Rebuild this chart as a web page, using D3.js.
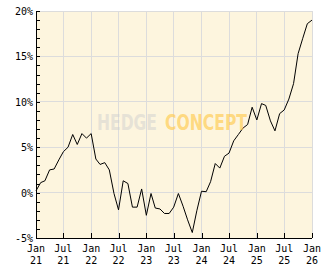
<!DOCTYPE html>
<html><head><meta charset="utf-8">
<script src="https://cdn.jsdelivr.net/npm/d3@7"></script>
<style>html,body{margin:0;padding:0;background:#fff;}svg{display:block;}</style>
</head><body>
<script>
const startDate = new Date(2021, 0, 1);
const values = [0.2,1.1,1.3,2.5,2.6,3.6,4.5,5.0,6.4,5.3,6.5,6.0,
  6.5,3.7,3.1,3.3,2.5,-0.1,-1.9,1.3,1.0,-1.6,-1.6,0.4,
  -2.5,-0.1,-1.7,-1.8,-2.3,-2.3,-1.6,-0.1,-1.5,-3.0,-4.4,-2.0,
  0.15,0.1,1.2,3.2,2.7,4.0,4.35,5.7,6.4,7.1,7.5,9.4,
  8.0,9.8,9.6,7.9,6.8,8.7,9.1,10.3,12.0,15.3,17.0,18.6,19.0];
const xTickMonths = ["Jan","Jul","Jan","Jul","Jan","Jul","Jan","Jul","Jan","Jul","Jan"];
const xTickYears = ["21","21","22","22","23","23","24","24","25","25","26"];
const yTicks = [-5,0,5,10,15,20];
const watermark = ["HEDGE","CONCEPT"];

const W=332,H=269;
const m={l:36,r:20,t:11,b:31};
const svg=d3.select("body").append("svg").attr("width",W).attr("height",H);
const dates=values.map((v,i)=>new Date(2021,i,1));
const x=d3.scaleTime().domain([startDate,new Date(2026,0,1)]).range([m.l,W-m.r]);
const y=d3.scaleLinear().domain([-5,20]).range([H-m.b,m.t]);
const tickDates=xTickMonths.map((_,i)=>new Date(2021,i*6,1));

svg.append("rect").attr("x",m.l).attr("y",m.t).attr("width",W-m.r-m.l).attr("height",H-m.b-m.t).attr("fill","#fdf5de");
const grid=svg.append("g").attr("stroke","#dcdcdc").attr("stroke-width",1).attr("shape-rendering","crispEdges");
yTicks.forEach(t=>grid.append("line").attr("x1",m.l).attr("x2",W-m.r).attr("y1",y(t)).attr("y2",y(t)));
tickDates.forEach(d=>grid.append("line").attr("x1",x(d)).attr("x2",x(d)).attr("y1",m.t).attr("y2",H-m.b));

const line=d3.line().x((d,i)=>x(dates[i])).y(d=>y(d));
svg.append("path").datum(values).attr("d",line).attr("fill","none").attr("stroke","#000").attr("stroke-width",1);

// watermark
const wmFont="DejaVu Sans Condensed, DejaVu Sans";
svg.append("text").attr("x",97).attr("y",130).attr("font-family",wmFont).attr("font-weight","bold").attr("font-size",21)
  .attr("textLength",60).attr("lengthAdjust","spacingAndGlyphs").attr("fill","#cfcfcf").attr("fill-opacity",0.5).text(watermark[0]);
svg.append("text").attr("x",165).attr("y",130).attr("font-family",wmFont).attr("font-weight","bold").attr("font-size",21)
  .attr("textLength",82).attr("lengthAdjust","spacingAndGlyphs").attr("fill","#ffc94a").attr("fill-opacity",0.65).text(watermark[1]);

// axes
const ax=svg.append("g").attr("shape-rendering","crispEdges");
const yAxis=d3.axisRight(y).tickValues(d3.range(-5,21,1)).tickSize(4).tickFormat("");
ax.append("g").attr("transform",`translate(${m.l},0)`).call(yAxis).call(g=>g.selectAll("path,line").attr("stroke","#000"));
const xAxis=d3.axisTop(x).tickValues(tickDates).tickSize(5).tickFormat("");
ax.append("g").attr("transform",`translate(0,${H-m.b})`).call(xAxis).call(g=>g.selectAll("path,line").attr("stroke","#000"));
svg.selectAll(".domain").remove();
ax.append("line").attr("x1",m.l).attr("x2",m.l).attr("y1",m.t).attr("y2",H-m.b).attr("stroke","#000");
ax.append("line").attr("x1",m.l).attr("x2",W-m.r).attr("y1",H-m.b).attr("y2",H-m.b).attr("stroke","#000");

const font="DejaVu Sans Mono";
yTicks.forEach(t=>svg.append("text").attr("x",33).attr("y",y(t)+4).attr("text-anchor","end")
  .attr("font-family",font).attr("font-size",10).attr("fill","#000").text(t+"%"));
tickDates.forEach((d,i)=>{
  svg.append("text").attr("x",x(d)).attr("y",252).attr("text-anchor","middle").attr("font-family",font).attr("font-size",10).text(xTickMonths[i]);
  svg.append("text").attr("x",x(d)).attr("y",264).attr("text-anchor","middle").attr("font-family",font).attr("font-size",10).text(xTickYears[i]);
});
</script>
</body></html>
